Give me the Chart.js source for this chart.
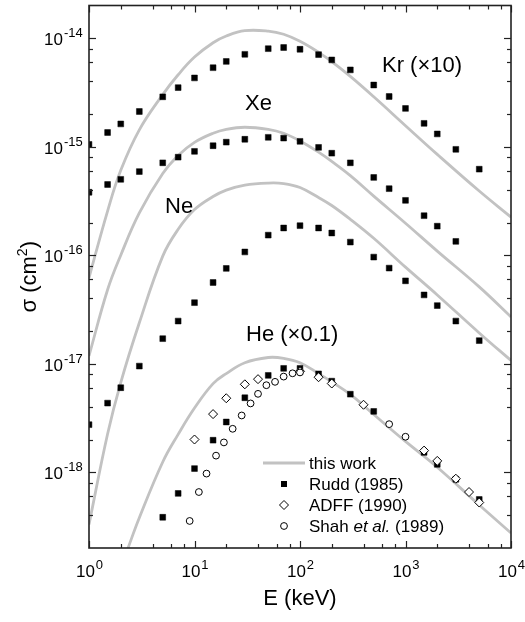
<!DOCTYPE html>
<html>
<head>
<meta charset="utf-8">
<title>Ionization cross sections</title>
<script src="https://cdn.jsdelivr.net/npm/chart.js@4.4.1/dist/chart.umd.min.js"></script>
<style>
  html, body { margin: 0; padding: 0; background: #fff; }
  #wrap { position: relative; width: 525px; height: 622px; }
</style>
</head>
<body>
<div id="wrap"><canvas id="chart"></canvas></div>
<script>
// Rudd (1985) squares
const kxE = [1, 1.5, 2, 3, 5, 7, 10, 15, 20, 30, 50, 70, 100, 150, 200, 300, 500, 700, 1000, 1500, 2000, 3000, 5000];
const krRudd = [1.05e-15, 1.35e-15, 1.62e-15, 2.11e-15, 2.88e-15, 3.5e-15, 4.3e-15, 5.34e-15, 6.1e-15, 7.1e-15, 8.0e-15, 8.2e-15, 7.9e-15, 7.05e-15, 6.3e-15, 5.1e-15, 3.7e-15, 2.9e-15, 2.25e-15, 1.64e-15, 1.31e-15, 9.45e-16, 6.2e-16];
const xeE = [1, 1.5, 2, 3, 5, 7, 10, 15, 20, 30, 50, 70, 100, 150, 200, 300, 500, 700, 1000, 1500, 2000, 3000];
const xeRudd = [3.8e-16, 4.48e-16, 5.0e-16, 5.9e-16, 7.1e-16, 8.0e-16, 9.05e-16, 1.02e-15, 1.1e-15, 1.17e-15, 1.22e-15, 1.2e-15, 1.12e-15, 9.85e-16, 8.7e-16, 7.1e-16, 5.2e-16, 4.1e-16, 3.2e-16, 2.31e-16, 1.85e-16, 1.34e-16];
const neE = kxE;
const neRudd = [2.74e-18, 4.33e-18, 6.0e-18, 9.5e-18, 1.7e-17, 2.47e-17, 3.65e-17, 5.6e-17, 7.55e-17, 1.07e-16, 1.53e-16, 1.78e-16, 1.87e-16, 1.78e-16, 1.6e-16, 1.32e-16, 9.6e-17, 7.6e-17, 5.8e-17, 4.3e-17, 3.43e-17, 2.47e-17, 1.63e-17];
const heE = [5, 7, 10, 15, 20, 30, 50, 70, 100, 150, 200, 300, 500, 1500, 2000, 3000, 5000];
const heRudd = [3.84e-19, 6.37e-19, 1.08e-18, 1.97e-18, 2.9e-18, 4.85e-18, 7.8e-18, 9.05e-18, 9.05e-18, 8.05e-18, 6.9e-18, 5.23e-18, 3.63e-18, 1.52e-18, 1.18e-18, 8.6e-19, 5.6e-19];

// ADFF (1990) diamonds, Shah et al. (1989) circles
const adffE = [10, 15, 20, 30, 40, 100, 150, 200, 400, 1500, 2000, 3000, 4000, 5000];
const heAdff = [2.0e-18, 3.43e-18, 4.8e-18, 6.45e-18, 7.2e-18, 8.5e-18, 7.5e-18, 6.56e-18, 4.18e-18, 1.58e-18, 1.27e-18, 8.7e-19, 6.56e-19, 5.25e-19];
const shahE = [9, 11, 13, 16, 19, 23, 28, 34, 40, 48, 58, 70, 85, 100, 700, 1000];
const heShah = [3.55e-19, 6.56e-19, 9.7e-19, 1.42e-18, 1.88e-18, 2.51e-18, 3.33e-18, 4.3e-18, 5.27e-18, 6.33e-18, 6.8e-18, 7.6e-18, 8.15e-18, 8.3e-18, 2.77e-18, 2.12e-18];

// this work (gray curves)
const curveE = [1, 1.5, 2, 3, 5, 7, 10, 15, 20, 30, 50, 70, 100, 150, 200, 300, 500, 1000, 2000, 5000, 10000];
const krCurve = [6.19e-17, 2.55e-16, 6.05e-16, 1.43e-15, 3.02e-15, 4.6e-15, 6.7e-15, 9.08e-15, 1.047e-14, 1.172e-14, 1.161e-14, 1.086e-14, 9.35e-15, 7.4e-15, 6.08e-15, 4.44e-15, 2.88e-15, 1.56e-15, 8.49e-16, 3.9e-16, 2.24e-16];
const xeCurve = [1.18e-17, 4.8e-17, 1.0e-16, 2.45e-16, 5.65e-16, 8.3e-16, 1.096e-15, 1.33e-15, 1.445e-15, 1.51e-15, 1.445e-15, 1.33e-15, 1.13e-15, 8.9e-16, 7.3e-16, 5.4e-16, 3.5e-16, 1.97e-16, 1.09e-16, 5.1e-17, 2.7e-17];
const neCurve = [3.3e-19, 2.25e-18, 6.7e-18, 2.38e-17, 9.8e-17, 1.73e-16, 2.63e-16, 3.47e-16, 3.98e-16, 4.42e-16, 4.62e-16, 4.57e-16, 4.2e-16, 3.4e-16, 2.87e-16, 2.14e-16, 1.43e-16, 7.76e-17, 4.3e-17, 1.92e-17, 1.07e-17];
const heCurveE = [2.3, 3, 5, 7, 10, 15, 20, 30, 50, 70, 100, 150, 200, 300, 500, 1000, 2000, 5000, 10000];
const heCurve = [1.9e-19, 3.8e-19, 1.24e-18, 2.23e-18, 3.9e-18, 6.55e-18, 8.1e-18, 1.02e-17, 1.14e-17, 1.12e-17, 1.02e-17, 8.1e-18, 6.8e-18, 5.2e-18, 3.4e-18, 1.92e-18, 1.11e-18, 4.98e-19, 2.75e-19];

// tick labels (powers of ten)
const xTickExp = [0, 1, 2, 3, 4];
const yTickExp = [-18, -17, -16, -15, -14];

const FONT = '"Liberation Sans", Arial, Helvetica, sans-serif';
const GRAY = '#c2c2c2';

const pair = (xs, ys) => xs.map((x, i) => ({ x: x, y: ys[i] }));

function curve(xs, ys) {
    return {
        data: pair(xs, ys), showLine: true, pointRadius: 0, borderColor: GRAY,
        borderWidth: 2.8, tension: 0.4, fill: false, clip: 0, order: 10
    };
}

function rudd(xs, ys) {
    return {
        data: pair(xs, ys), pointStyle: 'rect', pointRadius: 4.1, pointBackgroundColor: '#000',
        pointBorderColor: '#000', pointBorderWidth: 0.5, clip: 0, order: 3
    };
}

// "10" with raised exponent
function drawPow(ctx, exp, x, y, align) {
    const base = '10', sup = String(exp);
    ctx.font = '17px ' + FONT;
    const wb = ctx.measureText(base).width;
    ctx.font = '13px ' + FONT;
    const we = ctx.measureText(sup).width;
    const x0 = align === 'center' ? x - (wb + we) / 2 : x - wb;
    ctx.textAlign = 'left';
    ctx.font = '17px ' + FONT;
    ctx.fillText(base, x0, y);
    ctx.font = '13px ' + FONT;
    ctx.fillText(sup, x0 + wb + 1, y - 8);
}

// axes frame, inward ticks, labels, legend
const decorPlugin = {
    id: 'decor',
    afterDatasetsDraw(chart) {
        const { ctx, chartArea: a, scales: { x, y } } = chart;
        ctx.save();
        ctx.fillStyle = '#000';
        ctx.strokeStyle = '#222';
        ctx.textBaseline = 'alphabetic';

        const tick = (x1, y1, x2, y2) => {
            ctx.beginPath();
            ctx.moveTo(x1, y1);
            ctx.lineTo(x2, y2);
            ctx.stroke();
        };

        ctx.lineWidth = 1.2;
        for (let d = 0; d <= 4; d++) {
            const px = Math.round(x.getPixelForValue(10 ** d)) + 0.5;
            tick(px, a.bottom, px, a.bottom - 7);
            tick(px, a.top, px, a.top + 7);
            if (d < 4) {
                [2, 4, 6, 8].forEach(m => {
                    const q = Math.round(x.getPixelForValue(m * 10 ** d)) + 0.5;
                    tick(q, a.bottom, q, a.bottom - 4);
                    tick(q, a.top, q, a.top + 4);
                });
            }
        }
        for (let d = -19; d <= -14; d++) {
            const v = 10 ** d;
            if (v >= y.min && v <= y.max) {
                const py = Math.round(y.getPixelForValue(v)) + 0.5;
                tick(a.left, py, a.left + 7, py);
                tick(a.right, py, a.right - 7, py);
            }
            [2, 4, 6, 8].forEach(m => {
                const w = m * v;
                if (w > y.min * 1.01 && w < y.max * 0.99) {
                    const q = Math.round(y.getPixelForValue(w)) + 0.5;
                    tick(a.left, q, a.left + 4, q);
                    tick(a.right, q, a.right - 4, q);
                }
            });
        }

        ctx.lineWidth = 1.6;
        ctx.strokeRect(a.left, a.top, a.right - a.left, a.bottom - a.top);

        xTickExp.forEach(e => drawPow(ctx, e, x.getPixelForValue(10 ** e), a.bottom + 29, 'center'));
        yTickExp.forEach(e => drawPow(ctx, e, 63, y.getPixelForValue(10 ** e) + 7, 'right'));

        // axis titles
        ctx.textAlign = 'center';
        ctx.font = '22px ' + FONT;
        ctx.fillText('E (keV)', (a.left + a.right) / 2, 605);

        ctx.save();
        ctx.translate(36, (a.top + a.bottom) / 2);
        ctx.rotate(-Math.PI / 2);
        ctx.textAlign = 'left';
        ctx.font = '22px ' + FONT;
        const w1 = ctx.measureText('\u03c3 (cm').width;
        const w3 = ctx.measureText(')').width;
        ctx.font = '14px ' + FONT;
        const w2 = ctx.measureText('2').width;
        let sx = -(w1 + w2 + w3) / 2;
        ctx.font = '22px ' + FONT;
        ctx.fillText('\u03c3 (cm', sx, 0);
        ctx.font = '14px ' + FONT;
        ctx.fillText('2', sx + w1, -9);
        ctx.font = '22px ' + FONT;
        ctx.fillText(')', sx + w1 + w2, 0);
        ctx.restore();

        // curve labels
        ctx.textAlign = 'left';
        ctx.font = '22px ' + FONT;
        ctx.fillText('Kr (\u00d710)', 382, 72);
        ctx.fillText('Xe', 245, 110);
        ctx.fillText('Ne', 165, 213);
        ctx.fillText('He (\u00d70.1)', 246, 341);

        // legend
        const lx = 284, tx = 309;
        const rows = [463, 484, 505, 526];
        ctx.strokeStyle = GRAY;
        ctx.lineWidth = 2.8;
        tick(263, rows[0], 305, rows[0]);

        ctx.fillStyle = '#000';
        ctx.fillRect(lx - 3, rows[1] - 3, 6, 6);

        ctx.strokeStyle = '#000';
        ctx.lineWidth = 1;
        ctx.fillStyle = '#fff';
        ctx.beginPath();
        ctx.moveTo(lx - 4.5, rows[2]);
        ctx.lineTo(lx, rows[2] - 4.5);
        ctx.lineTo(lx + 4.5, rows[2]);
        ctx.lineTo(lx, rows[2] + 4.5);
        ctx.closePath();
        ctx.fill();
        ctx.stroke();

        ctx.beginPath();
        ctx.arc(lx, rows[3], 3.4, 0, Math.PI * 2);
        ctx.fill();
        ctx.stroke();

        ctx.fillStyle = '#000';
        ctx.font = '17px ' + FONT;
        ctx.fillText('this work', tx, rows[0] + 6);
        ctx.fillText('Rudd (1985)', tx, rows[1] + 6);
        ctx.fillText('ADFF (1990)', tx, rows[2] + 6);
        let cx = tx;
        ctx.fillText('Shah ', cx, rows[3] + 6);
        cx += ctx.measureText('Shah ').width;
        ctx.font = 'italic 17px ' + FONT;
        ctx.fillText('et al.', cx, rows[3] + 6);
        cx += ctx.measureText('et al.').width;
        ctx.font = '17px ' + FONT;
        ctx.fillText(' (1989)', cx, rows[3] + 6);

        ctx.restore();
    }
};

document.addEventListener('DOMContentLoaded', () => {
    const ctx = document.getElementById('chart').getContext('2d');
    new Chart(ctx, {
        type: 'scatter',
        data: {
            datasets: [
                curve(curveE, krCurve),
                curve(curveE, xeCurve),
                curve(curveE, neCurve),
                curve(heCurveE, heCurve),
                rudd(kxE, krRudd),
                rudd(xeE, xeRudd),
                rudd(neE, neRudd),
                rudd(heE, heRudd),
                {
                    data: pair(adffE, heAdff), pointStyle: 'rectRot', pointRadius: 4.5,
                    pointBackgroundColor: '#fff', pointBorderColor: '#000', pointBorderWidth: 1, clip: 0, order: 2
                },
                {
                    data: pair(shahE, heShah), pointStyle: 'circle', pointRadius: 3.4,
                    pointBackgroundColor: '#fff', pointBorderColor: '#000', pointBorderWidth: 1, clip: 0, order: 1
                }
            ]
        },
        options: {
            responsive: true,
            maintainAspectRatio: false,
            animation: false,
            events: [],
            layout: { padding: { left: 89, right: 14, top: 4, bottom: 74 } },
            scales: {
                x: { type: 'logarithmic', min: 1, max: 10000, display: false },
                y: { type: 'logarithmic', min: 2e-19, max: 2e-14, display: false }
            },
            plugins: { legend: { display: false }, tooltip: { enabled: false } }
        },
        plugins: [decorPlugin]
    });
});
</script>
</body>
</html>
